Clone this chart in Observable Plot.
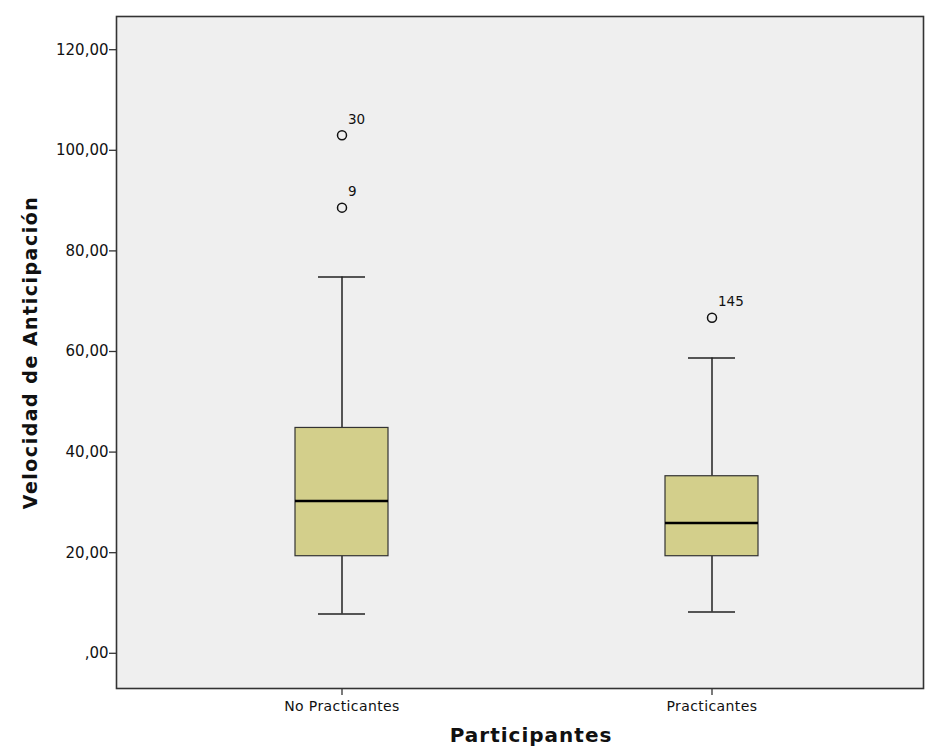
<!DOCTYPE html>
<html><head><meta charset="utf-8">
<script src="https://cdn.jsdelivr.net/npm/d3@7"></script>
<script src="https://cdn.jsdelivr.net/npm/@observablehq/plot@0.6"></script>
<style>body{margin:0;background:#fff}</style>
</head><body><div id="chart"></div>
<script>
const groups = ["No Practicantes", "Practicantes"];
const whiskerLow = [7.8, 8.2];
const q1 = [19.3, 19.3];
const median = [30.3, 25.9];
const q3 = [44.8, 35.2];
const whiskerHigh = [74.8, 58.7];
const outlierGroup = ["No Practicantes", "No Practicantes", "Practicantes"];
const outlierValue = [103.0, 88.6, 66.7];
const outlierId = ["30", "9", "145"];
const yTicks = [0, 20, 40, 60, 80, 100, 120];
const yLabel = "Velocidad de Anticipación";
const xLabel = "Participantes";

const boxes = groups.map((g, i) => ({group: g, lo: whiskerLow[i], q1: q1[i], med: median[i], q3: q3[i], hi: whiskerHigh[i]}));
const outliers = outlierValue.map((v, i) => ({group: outlierGroup[i], v, id: outlierId[i]}));
const fmt = d => d === 0 ? ",00" : d.toFixed(2).replace(".", ",");

const chart = Plot.plot({
  width: 925, height: 754,
  marginTop: 16, marginBottom: 66, marginLeft: 116, marginRight: 2,
  style: {background: "#fff"},
  x: {domain: groups, paddingInner: 0.749, paddingOuter: 0.465, align: 0.52},
  y: {domain: [-7, 126.6]},
  marks: [
    Plot.frame({fill: "#efefef"}),
    Plot.ruleX(boxes, {x: "group", y1: "lo", y2: "q1", stroke: "#222", strokeWidth: 1.5}),
    Plot.ruleX(boxes, {x: "group", y1: "q3", y2: "hi", stroke: "#222", strokeWidth: 1.5}),
    Plot.tickY(boxes, {x: "group", y: "lo", insetLeft: 23, insetRight: 23, stroke: "#222", strokeWidth: 1.5}),
    Plot.tickY(boxes, {x: "group", y: "hi", insetLeft: 23, insetRight: 23, stroke: "#222", strokeWidth: 1.5}),
    Plot.barY(boxes, {x: "group", y1: "q1", y2: "q3", fill: "#d3cf8b", stroke: "#333", strokeWidth: 1.2}),
    Plot.tickY(boxes, {x: "group", y: "med", stroke: "#000", strokeWidth: 2.5}),
    Plot.dot(outliers, {x: "group", y: "v", r: 4.5, stroke: "#111", strokeWidth: 1.5, fill: "none"}),
    Plot.text(outliers, {x: "group", y: "v", text: "id", dx: 6, dy: -16, textAnchor: "start", fontSize: 13.5, fontFamily: "DejaVu Sans", fill: "#111"}),
    Plot.axisY({ticks: yTicks, tickFormat: fmt, tickSize: 7, tickPadding: 1, label: null, fontSize: 15, fontFamily: "DejaVu Sans", stroke: "#333", strokeWidth: 1.3, color: "#111"}),
    Plot.axisX({tickSize: 7, tickPadding: 6, label: null, fontSize: 14, fontFamily: "DejaVu Sans", stroke: "#333", strokeWidth: 1.3, color: "#111"}),
    Plot.frame({stroke: "#333", strokeWidth: 1.6}),
    Plot.text([yLabel], {text: d => d, frameAnchor: "left", textAnchor: "middle", dx: -86, rotate: -90, fontSize: 19, fontWeight: "bold", fontFamily: "DejaVu Sans", fill: "#111"}),
    Plot.text([xLabel], {text: d => d, frameAnchor: "bottom", textAnchor: "middle", dx: 11, dy: 53, fontSize: 20, fontWeight: "bold", fontFamily: "DejaVu Sans", fill: "#111"})
  ]
});
chart.querySelectorAll("text").forEach(t => {
  if (t.textContent === yLabel) t.style.letterSpacing = "1.5px";
  else if (t.textContent === xLabel) t.style.letterSpacing = "1px";
  else if (groups.includes(t.textContent)) t.style.letterSpacing = "0.4px";
});
document.getElementById("chart").append(chart);
</script>
</body></html>
